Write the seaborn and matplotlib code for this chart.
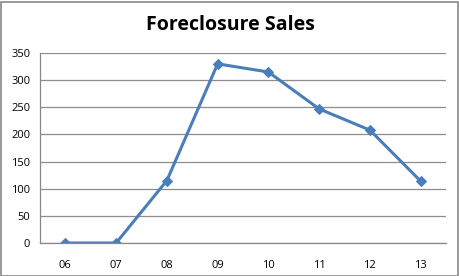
import matplotlib
matplotlib.use("Agg")
import matplotlib.pyplot as plt
import seaborn as sns
import pandas as pd
import numpy as np
from matplotlib.patches import Rectangle

years = ["06", "07", "08", "09", "10", "11", "12", "13"]
sales = [0, 0, 115, 330, 315, 247, 208, 114]
yticks = [0, 50, 100, 150, 200, 250, 300, 350]

df = pd.DataFrame({"idx": np.arange(len(years)), "sales": sales})

sns.set_style("white")
plt.rcParams['font.family'] = ['Open Sans', 'DejaVu Sans']
plt.rcParams['text.color'] = 'black'
plt.rcParams['xtick.color'] = 'black'
plt.rcParams['ytick.color'] = 'black'

fig = plt.figure(figsize=(4.6, 2.76), dpi=100)
ax = fig.add_axes([40/460, 33/276, 406/460, 190/276])
color = "#4a7ebb"
sns.lineplot(data=df, x="idx", y="sales", ax=ax, color=color, linewidth=2.2,
             marker="D", markersize=5, markeredgecolor=color, markerfacecolor=color)

ax.set_xlim(-0.5, len(years) - 0.5)
ax.set_ylim(0, 350)
ax.set_yticks(yticks)
ax.set_yticklabels([str(v) for v in yticks], fontsize=8)
ax.set_xticks(np.arange(len(years)))
ax.set_xticklabels(years, fontsize=8)
ax.set_xticks(np.arange(len(years) + 1) - 0.5, minor=True)
ax.tick_params(axis="x", which="major", length=0, pad=12)
ax.tick_params(axis="x", which="minor", length=4, color="#888888", direction="out")
ax.tick_params(axis="y", length=4, color="#888888", labelcolor="black", direction="out", pad=3)
ax.tick_params(axis="x", labelcolor="black")
ax.set_xlabel("")
ax.set_ylabel("")
ax.yaxis.grid(True, color="#8c8c8c", linewidth=0.9)
ax.set_axisbelow(True)
for s in ["top", "right"]:
    ax.spines[s].set_visible(False)
for s in ["left", "bottom"]:
    ax.spines[s].set_color("#888888")
    ax.spines[s].set_linewidth(0.9)

fig.text(230/460, 1 - 25/276, "Foreclosure Sales", ha="center", va="center",
         fontsize=14, fontweight="bold", color="black")
fig.patches.append(Rectangle((0.5/460, 0.5/276), 458/460, 274/276, transform=fig.transFigure,
                             fill=False, edgecolor="#888888", linewidth=1.2))

fig.savefig("out.png", dpi=100)
